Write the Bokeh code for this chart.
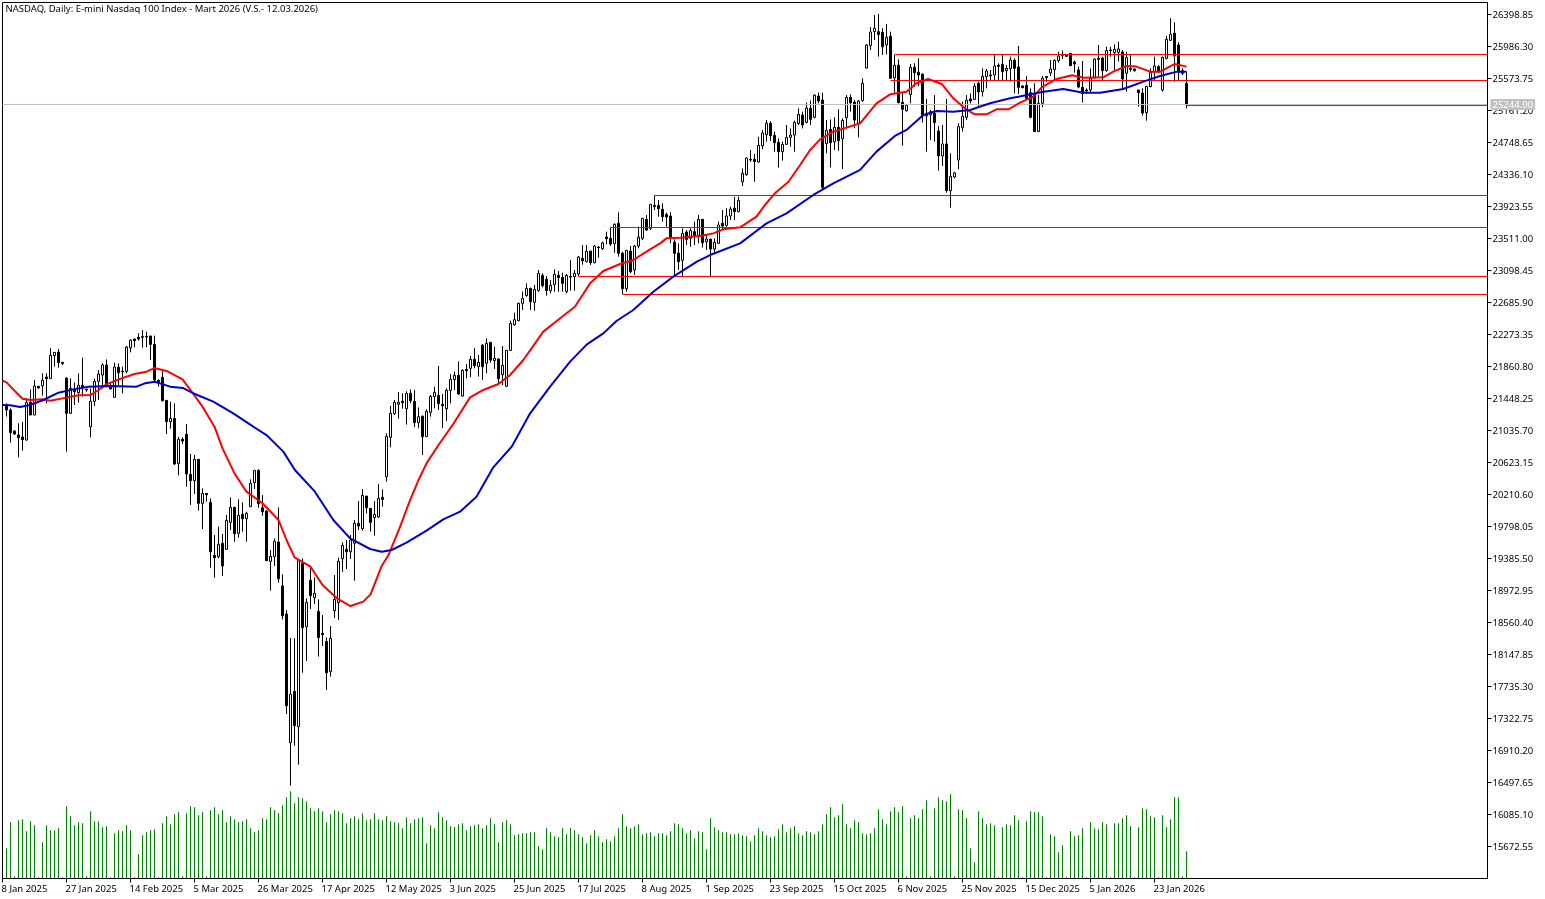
from bokeh.core.properties import value
from bokeh.embed import file_html
from bokeh.models import FixedTicker, Label, LinearAxis, NumeralTickFormatter, Range1d
from bokeh.plotting import figure
from bokeh.resources import INLINE

TITLE = "NASDAQ, Daily:  E-mini Nasdaq 100 Index - Mart 2026 (V.S.- 12.03.2026)"

opens = [
    21351, 21300, 21029, 20978, 20952, 20913, 21399, 21235, 21605, 21613,
    21725, 21704, 22000, 22047, 21914, 21712, 21257, 21570, 21523, 21618,
    21570, 21085, 21412, 21669, 21751, 21880, 21609, 21463, 21850, 21798,
    21798, 22103, 22215, 22237, 22245, 22249, 22254, 22146, 21682, 21721,
    21424, 21149, 21192, 20608, 20922, 20986, 20470, 20389, 20664, 20096,
    20225, 20109, 19426, 19409, 19581, 19503, 19851, 20045, 19710, 19955,
    19899, 20053, 20363, 20522, 20040, 19998, 19349, 19409, 19598, 19031,
    18670, 17011, 17673, 17217, 19323, 18507, 19104, 18880, 18704, 18421,
    18317, 17926, 18713, 18816, 19383, 19503, 19473, 19581, 19839, 19770,
    20191, 20032, 19912, 19920, 20174, 20440, 20948, 21253, 21373, 21412,
    21317, 21515, 21412, 21137, 21218, 20956, 21270, 21472, 21489, 21373,
    21317, 21553, 21691, 21747, 21480, 21824, 21837, 21953, 21859, 22134,
    21902, 22172, 21936, 21957, 21755, 21605, 22069, 22400, 22452, 22675,
    22774, 22868, 22688, 22838, 23036, 22984, 22838, 22916, 23036, 23010,
    22825, 23023, 23019, 23053, 23255, 23212, 23350, 23199, 23401, 23380,
    23530, 23513, 23444, 23706, 23320, 22864, 23350, 23105, 23414, 23513,
    23758, 23642, 23938, 23938, 23887, 23822, 23801, 23466, 23324, 23229,
    23595, 23513, 23599, 23552, 23758, 23470, 23504, 23375, 23448, 23706,
    23681, 23801, 23900, 23857, 24243, 24334, 24531, 24531, 24497, 24707,
    24849, 24999, 24841, 24750, 24630, 24725, 24815, 24845, 24995, 25103,
    25008, 25189, 25073, 25348, 25296, 24733, 24918, 24759, 24944, 24798,
    25068, 25331, 25270, 24995, 25288, 25709, 25997, 26178, 26178, 26169,
    26006, 26118, 25581, 25744, 25267, 25159, 25366, 25718, 25654, 25632,
    25125, 25104, 25125, 24897, 24575, 24730, 24128, 24304, 24523, 24940,
    25073, 25310, 25305, 25512, 25404, 25598, 25619, 25619, 25744, 25757,
    25675, 25701, 25808, 25722, 25477, 25486, 25391, 25361, 24889, 25254,
    25598, 25645, 25688, 25804, 25886, 25873, 25898, 25787, 25684, 25460,
    25426, 25426, 25581, 25834, 25838, 25675, 25941, 25907, 25911, 25916,
    25641, 25705, 25696, 25426, 25387, 25134, 25469, 25658, 25727, 25426,
    25834, 26066, 26156, 26006, 25675, 25512,
]
highs = [
    21386, 21321, 21042, 21128, 21145, 21450, 21566, 21687, 21605, 21772,
    21772, 22099, 22043, 22086, 21914, 21721, 21708, 21656, 21772, 21974,
    21570, 21579, 21704, 21815, 21901, 21953, 21644, 21910, 21901, 21858,
    22125, 22211, 22224, 22288, 22331, 22310, 22258, 22258, 21695, 21815,
    21429, 21407, 21386, 20956, 20947, 21119, 20733, 20720, 20664, 20290,
    20225, 20161, 19688, 19796, 19701, 19946, 20174, 20053, 20148, 20109,
    19989, 20406, 20522, 20535, 20204, 20010, 19495, 19645, 20045, 19181,
    18721, 18360, 18356, 19366, 19387, 18872, 19258, 19142, 18859, 18657,
    18369, 18515, 19173, 19396, 19594, 19624, 19688, 19881, 20126, 20281,
    20191, 20032, 20126, 20346, 20277, 20999, 21352, 21429, 21532, 21515,
    21541, 21566, 21558, 21334, 21231, 21309, 21493, 21601, 21867, 21506,
    21579, 21764, 21794, 21927, 21824, 21893, 21996, 22099, 22009, 22151,
    22224, 22172, 22116, 21966, 22125, 22073, 22452, 22555, 22684, 22825,
    22933, 22877, 22911, 23105, 23062, 23027, 22976, 23113, 23092, 23070,
    23053, 23234, 23105, 23285, 23427, 23427, 23350, 23427, 23414, 23470,
    23599, 23655, 23706, 23848, 23341, 23363, 23414, 23427, 23663, 23771,
    23814, 23951, 24067, 24007, 23964, 23844, 23852, 23500, 23448, 23642,
    23620, 23642, 23728, 23814, 23758, 23556, 23504, 23513, 23728, 23878,
    23900, 23921, 24050, 24050, 24415, 24557, 24652, 24600, 24823, 24909,
    25038, 25025, 24888, 24802, 24759, 24974, 24931, 25030, 25189, 25146,
    25262, 25288, 25369, 25391, 25391, 25038, 25047, 25073, 25176, 25060,
    25361, 25369, 25296, 25296, 25576, 26019, 26234, 26393, 26406, 26221,
    26277, 26178, 25877, 25821, 25383, 25245, 25761, 25770, 25834, 25632,
    25310, 25168, 25361, 24962, 24975, 25310, 24609, 24373, 24996, 25275,
    25361, 25383, 25512, 25533, 25705, 25697, 25684, 25877, 25770, 25877,
    25748, 25855, 25834, 25993, 25490, 25606, 25447, 25512, 25361, 25606,
    25606, 25813, 25821, 25920, 25933, 25877, 25898, 25804, 25727, 25800,
    25447, 25705, 25834, 26006, 25855, 25984, 25984, 26014, 26049, 25941,
    25920, 25877, 25705, 25426, 25447, 25477, 25705, 25855, 25748, 25855,
    26122, 26350, 26298, 26040, 25705, 25662,
]
lows = [
    21214, 20879, 20978, 20690, 20776, 20904, 21235, 21235, 21570, 21485,
    21386, 21704, 21858, 21845, 21880, 20763, 21248, 21364, 21394, 21472,
    21536, 20947, 21351, 21429, 21579, 21601, 21570, 21463, 21622, 21515,
    21772, 22043, 22108, 22194, 22103, 22108, 21944, 21665, 21601, 21407,
    20990, 21059, 20591, 20458, 20862, 20311, 20075, 20217, 20002, 19765,
    20118, 19267, 19138, 19387, 19160, 19503, 19753, 19602, 19654, 19731,
    19602, 20053, 20281, 20040, 19937, 19353, 18971, 19289, 19074, 18601,
    17381, 16457, 16972, 16728, 17913, 18064, 18734, 18799, 18120, 18257,
    17690, 17862, 18618, 18592, 19215, 19250, 19379, 19099, 19753, 19744,
    19967, 19731, 19680, 19912, 20053, 20376, 20819, 21236, 21188, 21317,
    21111, 21386, 21077, 21064, 20720, 20956, 21214, 21321, 21300, 21068,
    21158, 21386, 21558, 21493, 21472, 21708, 21721, 21837, 21730, 21687,
    21773, 21910, 21828, 21635, 21622, 21601, 22065, 22387, 22443, 22589,
    22761, 22589, 22580, 22825, 22881, 22774, 22804, 22825, 22825, 22825,
    22804, 22838, 22838, 23027, 23173, 23204, 23169, 23191, 23264, 23363,
    23436, 23414, 23328, 23277, 22795, 22825, 23062, 23040, 23384, 23491,
    23612, 23620, 23878, 23792, 23728, 23663, 23448, 23027, 23105, 23019,
    23427, 23405, 23427, 23448, 23393, 23362, 23027, 23320, 23440, 23620,
    23663, 23749, 23749, 23848, 24188, 24321, 24501, 24243, 24488, 24660,
    24759, 24768, 24630, 24424, 24514, 24716, 24695, 24630, 24974, 24931,
    24995, 24974, 25060, 25253, 24149, 24609, 24428, 24652, 24643, 24407,
    24931, 25146, 24931, 24815, 25275, 25705, 25941, 26070, 25855, 25877,
    25886, 25576, 25391, 25254, 24708, 25146, 25254, 25469, 25477, 25005,
    24631, 24781, 24760, 24386, 24446, 24102, 23909, 24287, 24403, 24889,
    25039, 25254, 25297, 25211, 25340, 25447, 25555, 25555, 25555, 25555,
    25555, 25533, 25383, 25374, 25447, 25305, 25061, 24889, 24889, 25202,
    25533, 25606, 25555, 25778, 25825, 25855, 25735, 25649, 25447, 25263,
    25383, 25383, 25568, 25598, 25555, 25662, 25855, 25684, 25791, 25434,
    25404, 25662, 25662, 25211, 25095, 25030, 25460, 25555, 25641, 25404,
    25821, 26057, 25533, 25555, 25619, 25189,
]
closes = [
    21300, 21008, 20990, 20943, 20917, 21394, 21235, 21609, 21588, 21682,
    21704, 22005, 22043, 21910, 21901, 21257, 21579, 21536, 21618, 21588,
    21558, 21412, 21669, 21764, 21880, 21622, 21570, 21854, 21781, 21790,
    22112, 22202, 22194, 22215, 22237, 22241, 22146, 21687, 21661, 21420,
    21149, 21192, 20604, 20922, 20900, 20475, 20389, 20664, 20097, 20225,
    20208, 19473, 19396, 19568, 19289, 19877, 20045, 19705, 19942, 19899,
    19967, 20354, 20522, 20092, 19989, 19357, 19413, 19607, 19125, 18648,
    17488, 17634, 17230, 19357, 18494, 18820, 18906, 18936, 18365, 18403,
    17913, 18356, 18859, 19349, 19555, 19473, 19624, 19839, 19804, 20200,
    20040, 19851, 19955, 20161, 20148, 20960, 21257, 21399, 21399, 21394,
    21515, 21420, 21137, 21214, 20956, 21283, 21476, 21528, 21382, 21356,
    21553, 21695, 21747, 21506, 21811, 21807, 21953, 21871, 21914, 21859,
    22159, 21944, 21966, 21704, 21876, 22069, 22417, 22464, 22675, 22739,
    22868, 22696, 22855, 23062, 22903, 22838, 22907, 23049, 23006, 22933,
    23036, 23014, 23062, 23272, 23225, 23345, 23199, 23414, 23393, 23453,
    23509, 23440, 23693, 23320, 22864, 23358, 23083, 23414, 23530, 23771,
    23620, 23951, 23921, 23895, 23792, 23788, 23526, 23320, 23212, 23577,
    23500, 23612, 23543, 23758, 23457, 23504, 23375, 23461, 23685, 23672,
    23801, 23891, 23857, 24003, 24351, 24549, 24523, 24501, 24712, 24871,
    24999, 24836, 24746, 24630, 24725, 24815, 24845, 25008, 25111, 24974,
    25193, 25047, 25361, 25283, 24170, 24905, 24746, 24944, 24772, 25034,
    25331, 25262, 25038, 25283, 25512, 26006, 26173, 26221, 26139, 25984,
    26105, 25576, 25744, 25262, 25177, 25228, 25718, 25649, 25619, 25091,
    25091, 25146, 25005, 24575, 24730, 24128, 24313, 24356, 24953, 25086,
    25293, 25284, 25477, 25400, 25602, 25671, 25606, 25735, 25731, 25662,
    25705, 25813, 25705, 25460, 25456, 25318, 25073, 24889, 25254, 25576,
    25585, 25696, 25808, 25864, 25873, 25860, 25739, 25761, 25464, 25383,
    25413, 25581, 25825, 25821, 25675, 25933, 25933, 25950, 25954, 25568,
    25843, 25692, 25675, 25391, 25129, 25473, 25649, 25735, 25662, 25847,
    26079, 26143, 25864, 25662, 25641, 25244,
]
volumes = [
    91, 169, 7, 175, 178, 142, 172, 160, 4, 109,
    160, 145, 145, 151, 4, 217, 187, 160, 169, 166,
    7, 202, 172, 172, 154, 157, 4, 136, 145, 142,
    160, 145, 4, 73, 130, 139, 145, 148, 4, 166,
    187, 163, 193, 199, 7, 196, 217, 214, 190, 199,
    7, 205, 214, 193, 205, 169, 187, 178, 169, 172,
    178, 151, 139, 145, 181, 178, 214, 205, 196, 220,
    244, 262, 226, 244, 241, 232, 211, 202, 211, 202,
    169, 193, 205, 202, 196, 166, 181, 187, 178, 196,
    175, 178, 196, 178, 175, 187, 172, 169, 166, 151,
    184, 166, 178, 181, 184, 106, 160, 151, 199, 184,
    175, 157, 154, 163, 166, 145, 157, 160, 163, 151,
    160, 181, 163, 109, 169, 175, 163, 130, 133, 136,
    136, 139, 139, 97, 88, 151, 139, 127, 124, 151,
    133, 151, 145, 133, 124, 106, 130, 145, 127, 109,
    118, 112, 127, 151, 193, 157, 151, 157, 163, 133,
    136, 139, 127, 136, 136, 130, 142, 166, 163, 151,
    136, 145, 121, 142, 139, 88, 181, 154, 145, 139,
    139, 133, 133, 136, 130, 127, 112, 130, 151, 142,
    130, 124, 127, 148, 163, 139, 151, 157, 136, 130,
    142, 139, 133, 142, 163, 193, 214, 184, 190, 223,
    163, 151, 175, 169, 136, 133, 136, 151, 208, 178,
    163, 202, 214, 199, 217, 7, 181, 190, 181, 208,
    235, 7, 211, 244, 235, 232, 253, 7, 208, 205,
    181, 91, 49, 202, 181, 163, 166, 160, 4, 154,
    163, 160, 190, 175, 4, 172, 202, 199, 199, 187,
    4, 133, 127, 79, 100, 4, 142, 127, 130, 151,
    4, 169, 151, 148, 169, 163, 4, 166, 166, 181,
    190, 157, 4, 154, 211, 208, 187, 184, 4, 190,
    154, 178, 244, 244, 7, 82,
]
bars = list(range(1, len(closes) + 1))

red_bars = [
    0, 1, 3, 5, 7, 10, 12, 15, 19, 22, 24, 26, 29, 33, 36, 38, 41, 45, 47, 50,
    53, 55, 58, 61, 65, 69, 71, 73, 77, 80, 83.6, 87, 90.2, 92, 94.8, 96.5, 99.4,
    101.9, 104, 106, 109, 112.8, 116.9, 120.2, 124, 126.9, 130.2, 135.2, 139.4,
    143.1, 146.9, 150.2, 154.4, 157.7, 161.9, 164.4, 166, 169.4, 174.4, 177.7,
    180.2, 184.4, 188.5, 190.6, 193.1, 196.5, 199.4, 201.9, 204.4, 207.7, 211,
    214.4, 218.5, 221.9, 226, 228.5, 231.4, 234.8, 237.7, 241.1, 243.1, 246,
    248.5, 251.5, 254.4, 257.7, 259.8, 263.5, 267.4, 270.2, 275.2, 277.7, 281,
    283.5, 286.9, 289.4, 293.1, 296,
]
red_values = [
    21678, 21656, 21549, 21446, 21429, 21437, 21420, 21450, 21489, 21493, 21558,
    21631, 21695, 21764, 21794, 21841, 21803, 21695, 21558, 21343, 21085, 20806,
    20483, 20247, 20097, 19882, 19624, 19400, 19280, 19044, 18872, 18773, 18829,
    18923, 19289, 19430, 19796, 20139, 20397, 20612, 20849, 21128, 21463, 21558,
    21635, 21751, 21945, 22310, 22482, 22632, 22933, 23092, 23182, 23234, 23371,
    23448, 23513, 23521, 23543, 23577, 23629, 23655, 23792, 23943, 24093, 24243,
    24458, 24652, 24789, 24888, 24940, 24996, 25254, 25370, 25404, 25512, 25568,
    25503, 25318, 25168, 25112, 25112, 25177, 25177, 25263, 25340, 25460, 25568,
    25615, 25585, 25589, 25662, 25735, 25727, 25662, 25662, 25761, 25727,
]
blue_bars = [
    0, 1.9, 4.4, 6.9, 10.2, 14, 17.7, 21.5, 26.9, 33.5, 35.6, 38.1, 41.9, 45.2,
    48.1, 52.7, 57.7, 62.7, 66, 70.2, 73.1, 78.1, 82.7, 86.9, 91.9, 94.8, 97.3,
    101, 106, 110.2, 114.4, 118.5, 122.7, 127.3, 131.9, 136.9, 141.9, 146.1,
    150.2, 153.5, 157.7, 162.7, 167.7, 173.6, 176.9, 184.4, 191, 196, 202.7,
    207.7, 214.4, 218.5, 223.1, 226, 230.2, 233.5, 237.7, 241.9, 246.9, 251.9,
    256.1, 260.3, 265.2, 270.2, 274.4, 280.2, 285.2, 289.4, 293.6, 296,
]
blue_values = [
    21364, 21360, 21338, 21364, 21429, 21523, 21566, 21601, 21609, 21601, 21644,
    21665, 21601, 21583, 21506, 21407, 21257, 21085, 20977, 20763, 20526, 20247,
    19882, 19645, 19508, 19473, 19495, 19589, 19744, 19890, 19989, 20182, 20561,
    20827, 21257, 21601, 21923, 22146, 22288, 22447, 22589, 22825, 23019, 23212,
    23298, 23448, 23706, 23835, 24072, 24222, 24395, 24631, 24833, 24910, 25103,
    25155, 25146, 25168, 25254, 25318, 25361, 25404, 25439, 25391, 25391, 25439,
    25533, 25606, 25662, 25662,
]

level_start_bars = [223, 222, 296, 163, 152, 144, 155]
level_prices = [25883, 25548, 25225, 24065, 23653, 23021, 22789]
bid_price = 25239
bid_label = "25244.00"

price_ticks = [
    26398.85, 25986.30, 25573.75, 25161.20, 24748.65, 24336.10, 23923.55,
    23511.00, 23098.45, 22685.90, 22273.35, 21860.80, 21448.25, 21035.70,
    20623.15, 20210.60, 19798.05, 19385.50, 18972.95, 18560.40, 18147.85,
    17735.30, 17322.75, 16910.20, 16497.65, 16085.10, 15672.55,
]
date_bars = list(range(0, 289, 16))
date_labels = [
    "8 Jan 2025", "27 Jan 2025", "14 Feb 2025", "5 Mar 2025", "26 Mar 2025",
    "17 Apr 2025", "12 May 2025", "3 Jun 2025", "25 Jun 2025", "17 Jul 2025",
    "8 Aug 2025", "1 Sep 2025", "23 Sep 2025", "15 Oct 2025", "6 Nov 2025",
    "25 Nov 2025", "15 Dec 2025", "5 Jan 2026", "23 Jan 2026",
]

FONT = "Noto Sans"
FONT_SIZE = "9.5px"
# the chart box, inside a frame that takes the whole page so that texts are not cut off
BOX_LEFT, BOX_RIGHT = 0, 371.25
BOX_BOTTOM, BOX_TOP = 15259.96, 26553.56

p = figure(
    frame_width=1537, frame_height=897,
    min_border_left=0, min_border_top=0, min_border_right=0, min_border_bottom=0,
    x_range=Range1d(-0.5, 383.75), y_range=Range1d(15015.03, 26579.34),
    x_axis_location=None, y_axis_location=None,
    toolbar_location=None, output_backend="svg",
)
p.styles = {"position": "fixed", "left": "0px", "top": "0px"}
p.extra_y_ranges = {"volume": Range1d(-57, 2634)}
p.grid.visible = False
p.outline_line_color = None
p.background_fill_color = "white"

xaxis = LinearAxis(fixed_location=BOX_BOTTOM, bounds=(BOX_LEFT, BOX_RIGHT))
xaxis.ticker = FixedTicker(ticks=date_bars)
xaxis.major_label_overrides = {b: "" for b in date_bars}
xaxis.major_tick_in = 0
xaxis.major_tick_out = 4
xaxis.minor_tick_line_color = None
xaxis.axis_line_color = "black"
p.add_layout(xaxis, "below")

yaxis = LinearAxis(fixed_location=BOX_RIGHT, bounds=(BOX_BOTTOM, BOX_TOP))
yaxis.ticker = FixedTicker(ticks=price_ticks)
yaxis.formatter = NumeralTickFormatter(format="0.00")
yaxis.major_tick_in = 0
yaxis.major_tick_out = 4
yaxis.minor_tick_line_color = None
yaxis.major_label_standoff = 1
yaxis.major_label_text_font = FONT
yaxis.major_label_text_font_size = FONT_SIZE
yaxis.major_label_text_color = "black"
p.add_layout(yaxis, "right")

p.quad(left=[BOX_LEFT], right=[BOX_RIGHT], top=[BOX_TOP], bottom=[BOX_BOTTOM],
       fill_color=None, line_color="black", line_width=1)

p.vbar(x=bars, top=volumes, bottom=0, width=0.25, y_range_name="volume",
       fill_color="#008000", line_color=None)

p.segment(bars, highs, bars, lows, color="black", line_width=1)
fills = ["white" if c >= o else "black" for o, c in zip(opens, closes)]
tops = [max(o, c) for o, c in zip(opens, closes)]
bottoms = [min(o, c) for o, c in zip(opens, closes)]
p.vbar(x=bars, top=tops, bottom=bottoms, width=0.5, fill_color=fills,
       line_color="black", line_width=1)

p.line([BOX_LEFT, BOX_RIGHT], [bid_price, bid_price], color="#C0C0C0", line_width=1)
for start, price in zip(level_start_bars, level_prices):
    p.segment([start], [price], [BOX_RIGHT], [price], color="#FF0000", line_width=1)

p.line(red_bars, red_values, color="#FF0000", line_width=2)
p.line(blue_bars, blue_values, color="#0000CD", line_width=2)

p.text(x=date_bars, y=[BOX_BOTTOM] * len(date_bars), text=date_labels, x_offset=-1, y_offset=3,
       text_font=value(FONT), text_font_size=FONT_SIZE, text_baseline="top",
       text_align="left", text_color="black")

p.add_layout(Label(x=BOX_LEFT, y=BOX_TOP, x_offset=3, y_offset=0, text=TITLE, text_font=FONT,
                   text_font_size=FONT_SIZE, text_baseline="top", text_color="black"))
p.add_layout(Label(x=BOX_RIGHT, y=bid_price, x_offset=3, text=bid_label, text_font=FONT,
                   text_font_size=FONT_SIZE, text_baseline="middle", text_color="white",
                   background_fill_color="#C0C0C0", padding=2))

open("out.html", "w").write(file_html(p, INLINE))
